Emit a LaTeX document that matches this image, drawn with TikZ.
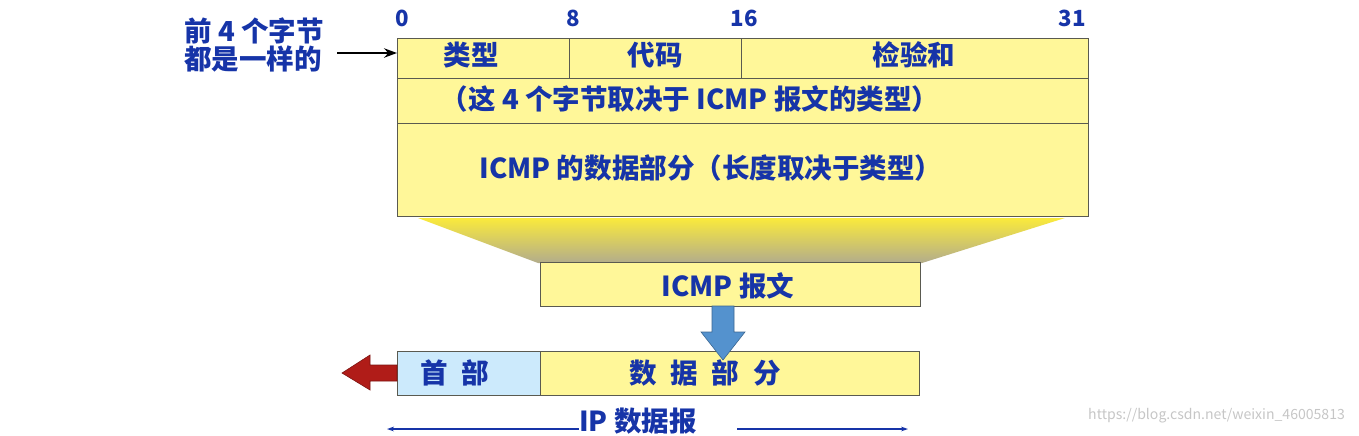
\documentclass[tikz,border=0pt]{standalone}
\usepackage{fontspec}
\setmainfont{Noto Sans CJK SC}
\usepackage{tikz}
\usetikzlibrary{arrows.meta,positioning}

\definecolor{pktyellow}{RGB}{255,247,153}
\definecolor{hdrblue}{RGB}{204,234,252}
\definecolor{txtblue}{RGB}{22,52,168}
\definecolor{linegray}{RGB}{90,90,80}
\definecolor{arrblue}{RGB}{84,146,206}
\definecolor{arrred}{RGB}{176,28,24}
\definecolor{fadetop}{RGB}{250,234,60}
\definecolor{fadebot}{RGB}{178,172,140}

\newcommand{\px}{0.03cm}

\begin{document}
\begin{tikzpicture}[
    x=\px, y=-\px,
    cell/.style={draw=linegray, fill=pktyellow, inner sep=0pt, outer sep=0pt, line width=0.6pt},
    lbl/.style={text=txtblue, font=\fontsize{23.5}{24}\selectfont\bfseries, inner sep=0pt},
    bitno/.style={text=txtblue, font=\fontsize{19}{20}\selectfont\bfseries, inner sep=0pt},
    ptr/.style={-{Stealth[length=11pt,width=8pt]}, line width=1.6pt},
    span/.style={{Stealth[length=6pt,width=4pt]}-, draw=txtblue, line width=1pt},
  ]
    \useasboundingbox (0,0) rectangle (1359,435);

    \node[bitno] (b0) at (402,18) {0};
    \node[bitno] (b8) at (573,18) {8};
    \node[bitno] (b16) at (744,18) {16};
    \node[bitno] (b31) at (1072,18) {31};

    \node[lbl, align=left, anchor=west] (same) at (184,45) {前 4 个字节\\都是一样的};

    \shade[top color=fadetop, bottom color=fadebot]
      (418,218) -- (1065,218) -- (922,263) -- (538,263) -- cycle;

    \node[cell, minimum width=172*\px, minimum height=40*\px] (type) at (483,58) {};
    \node[cell, minimum width=172*\px, minimum height=40*\px] (code) at (655,58) {};
    \node[cell, minimum width=347*\px, minimum height=40*\px] (csum) at (914.5,58) {};
    \node[cell, minimum width=691*\px, minimum height=45*\px] (rest) at (742.5,100.5) {};
    \node[cell, minimum width=691*\px, minimum height=93*\px] (body) at (742.5,169.5) {};

    \node[lbl] at (471,55) {类型};
    \node[lbl] at (655,55) {代码};
    \node[lbl] at (914,55) {检验和};
    \node[lbl] at (690,99) {（这 4 个字节取决于 ICMP 报文的类型）};
    \node[lbl] at (711,168) {ICMP 的数据部分（长度取决于类型）};

    \coordinate (ptrs) at (337,53);
    \draw[ptr] (ptrs) -- (ptrs -| type.west);

    \node[cell, minimum width=380*\px, minimum height=44*\px] (icmp) at (730,284) {};
    \node[lbl] at (728,286) {ICMP 报文};

    \node[cell, fill=hdrblue, minimum width=143*\px, minimum height=44*\px] (hdr) at (468.5,373) {};
    \node[cell, minimum width=379*\px, minimum height=44*\px] (data) at (729.5,373) {};
    \node[lbl] at (455,373) {首\hspace{0.5em}部};
    \node[lbl] at (705,373) {数\hspace{0.5em}据\hspace{0.5em}部\hspace{0.5em}分};

    % block arrows
    \draw[fill=arrblue, draw=arrblue!70!black, line width=0.5pt]
      (712,306) -- (734,306) -- (734,332) -- (745,332) -- (723,360) -- (701,332) -- (712,332) -- cycle;
    \draw[fill=arrred, draw=arrred!70!black, line width=0.5pt]
      (hdr.west |- 0,365) -- (370,365) -- (370,355) -- (342,373) -- (370,390) -- (370,381) -- (hdr.west |- 0,381) -- cycle;

    \node[lbl] (ipdg) at (638,421) {IP 数据报};
    \coordinate (ipl) at (387,429);
    \coordinate (ipr) at (908,429);
    \draw[span] (ipl) -- (ipl -| ipdg.west);
    \draw[span] (ipr) -- (737,429);

    \node[text=gray!45, font=\fontsize{12}{14}\selectfont, anchor=east] (wm) at (1349,416) {https://blog.csdn.net/weixin\_46005813};
  \end{tikzpicture}
\end{document}
